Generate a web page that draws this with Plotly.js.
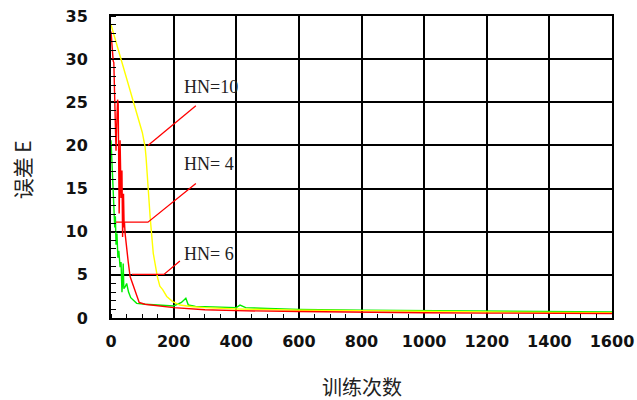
<!DOCTYPE html>
<html><head><meta charset="utf-8">
<script src="https://cdn.plot.ly/plotly-3.0.1.min.js"></script>
<style>html,body{margin:0;padding:0;background:#fff;}#chart{width:637px;height:400px;}</style>
</head><body><div id="chart"></div>
<script>
// HN=10 (yellow)
const xYellow = [0, 20, 60, 100, 109, 112, 125, 135, 148, 156, 165, 178, 197, 220, 260, 300, 400, 500, 600, 800, 1000, 1200, 1400, 1600];
const yYellow = [34.0, 31.5, 26.5, 21.5, 19.8, 18.6, 11.7, 7.5, 4.8, 3.7, 3.3, 2.5, 1.9, 1.5, 1.3, 1.2, 1.05, 0.95, 0.9, 0.85, 0.75, 0.7, 0.65, 0.6];
// HN=4 (red)
const xRed = [0, 4, 7, 9, 12, 16, 18, 20, 21, 23, 26, 28, 29, 31, 32, 34, 35, 37, 39, 40, 42, 43, 45, 48, 55, 61, 71, 80, 90, 108, 150, 200, 300, 400, 600, 800, 1000, 1200, 1400, 1600];
const yRed = [33.2, 31.0, 29.8, 29.6, 26.0, 19.4, 22.0, 25.2, 25.3, 24.8, 12.1, 16.0, 20.6, 16.5, 13.9, 15.5, 17.1, 9.4, 12.0, 14.4, 10.5, 11.1, 9.8, 9.0, 6.5, 4.8, 3.8, 2.8, 1.8, 1.6, 1.4, 1.2, 0.95, 0.85, 0.75, 0.65, 0.6, 0.57, 0.55, 0.53];
// HN=6 (green)
const xGreen = [0, 4, 7, 9, 11, 12, 14, 16, 19, 22, 25, 29, 32, 35, 37, 39, 41, 45, 50, 56, 63, 82, 110, 150, 200, 225, 239, 247, 270, 300, 350, 400, 412, 430, 500, 600, 800, 1000, 1200, 1400, 1600];
const yGreen = [20.6, 17.5, 15.2, 14.0, 12.8, 10.5, 11.8, 8.5, 9.8, 7.0, 7.8, 5.9, 6.5, 3.0, 4.2, 6.3, 3.4, 3.6, 4.0, 3.0, 2.35, 1.7, 1.6, 1.5, 1.4, 1.8, 2.3, 1.5, 1.35, 1.3, 1.25, 1.2, 1.5, 1.2, 1.1, 1.0, 0.9, 0.85, 0.8, 0.75, 0.7];
// label leader lines
const xLead10 = [271, 118];
const yLead10 = [24.6, 20.0];
const xLead4 = [271, 118, 16];
const yLead4 = [15.6, 11.1, 11.1];
const xLead6 = [220, 169, 67];
const yLead6 = [6.6, 5.05, 5.05];
const labelText = ["HN=10", "HN= 4", "HN= 6"];
const labelX = [228, 228, 228];
const labelY = [26.8, 17.9, 7.4];
const xTicks = [0, 200, 400, 600, 800, 1000, 1200, 1400, 1600];
const yTicks = [0, 5, 10, 15, 20, 25, 30, 35];

const lw = 1.4;
const traces = [
  {x: xGreen, y: yGreen, mode: 'lines', line: {color: '#00ee00', width: lw}},
  {x: xYellow, y: yYellow, mode: 'lines', line: {color: '#ffff00', width: lw}},
  {x: xRed, y: yRed, mode: 'lines', line: {color: '#ff0000', width: lw}},
  {x: xLead10, y: yLead10, mode: 'lines', line: {color: '#ff0000', width: 1.3}},
  {x: xLead4, y: yLead4, mode: 'lines', line: {color: '#ff0000', width: 1.3}},
  {x: xLead6, y: yLead6, mode: 'lines', line: {color: '#ff0000', width: 1.3}}
].map(t => Object.assign(t, {showlegend: false, hoverinfo: 'skip'}));

const tickFont = {family: 'DejaVu Sans', size: 16, weight: 'bold', color: '#111'};
const annotations = labelText.map((t, i) => ({
  x: labelX[i], y: labelY[i], xref: 'x', yref: 'y', text: t, showarrow: false,
  xanchor: 'left', yanchor: 'middle',
  font: {family: 'Liberation Serif', size: 18, color: '#222'}
}));
annotations.push({
  xref: 'paper', yref: 'paper', x: 0.5, y: -0.228, yanchor: 'middle', xanchor: 'center',
  text: '训练次数', showarrow: false,
  font: {family: 'Noto Sans CJK SC', size: 20, color: '#222'}
});
annotations.push({
  xref: 'paper', yref: 'paper', x: -0.177, y: 0.49, yanchor: 'middle', xanchor: 'center',
  text: '误差 E', showarrow: false, textangle: -90,
  font: {family: 'Noto Sans CJK SC', size: 21, color: '#222'}
});

const axisCommon = {
  showgrid: true, gridcolor: '#000', gridwidth: 2,
  showline: true, linecolor: '#000', linewidth: 2, mirror: true,
  zeroline: false, ticks: '', tickfont: tickFont, fixedrange: true
};

const layout = {
  width: 637, height: 400,
  margin: {l: 111, r: 25, t: 16, b: 82},
  paper_bgcolor: '#fff', plot_bgcolor: '#fff',
  xaxis: Object.assign({}, axisCommon, {
    range: [0, 1600], tickvals: xTicks, ticktext: xTicks.map(String),
    ticklabelstandoff: 8,
    minor: {dtick: 50, tick0: 0, ticks: 'inside', ticklen: 4, tickcolor: '#000', tickwidth: 1, showgrid: false}
  }),
  yaxis: Object.assign({}, axisCommon, {
    range: [0, 35], tickvals: yTicks, ticktext: yTicks.map(String),
    ticklabelstandoff: 18,
    minor: {dtick: 1, tick0: 0, ticks: 'inside', ticklen: 5, tickcolor: '#000', tickwidth: 1, showgrid: false}
  }),
  annotations: annotations
};

Plotly.newPlot('chart', traces, layout, {staticPlot: true, displayModeBar: false});
</script>
</body></html>
